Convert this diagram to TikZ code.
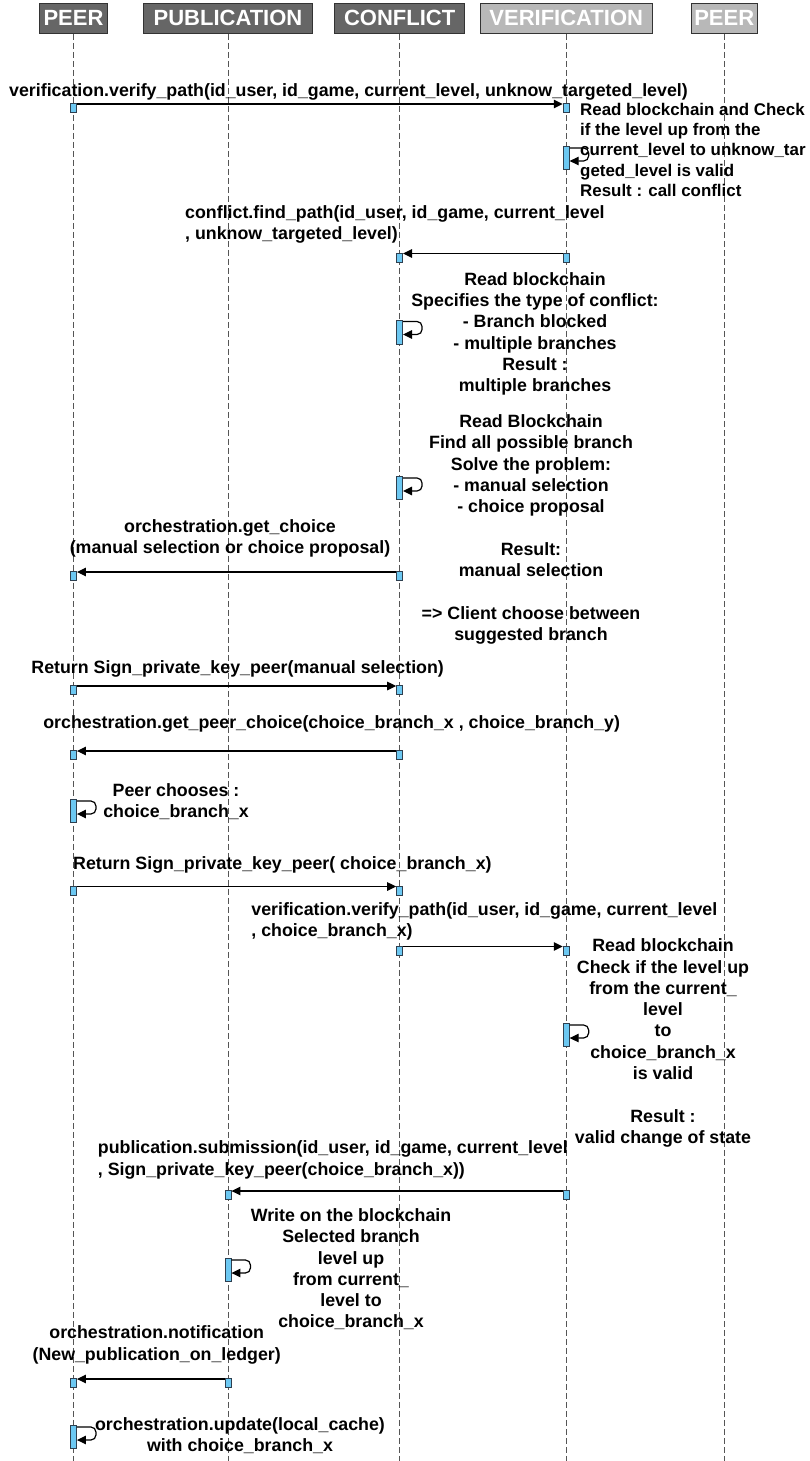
\documentclass[tikz,border=0pt]{standalone}
\usepackage{fontspec}
\setmainfont{Liberation Sans}
\usetikzlibrary{arrows.meta}

\definecolor{hdrdark}{HTML}{666666}
\definecolor{hdrlight}{HTML}{B8B8B8}
\definecolor{hdredge}{HTML}{333333}
\definecolor{actfill}{HTML}{6CC8F2}
\definecolor{actedge}{HTML}{2E3F4F}
\definecolor{lifegray}{HTML}{555555}

\tikzset{
  hdr/.style={draw=hdredge, line width=1pt, minimum height=30pt, inner sep=0pt,
    text=white, font=\fontsize{22}{26}\selectfont\bfseries},
  hdrdk/.style={hdr, fill=hdrdark},
  hdrlt/.style={hdr, fill=hdrlight},
  life/.style={draw=lifegray, line width=0.9pt, dash pattern=on 6pt off 3pt},
  act/.style={draw=actedge, fill=actfill, line width=0.9pt, minimum width=6pt,
    inner sep=0pt, anchor=north},
  actmsg/.style={act, minimum height=9pt},
  actself/.style={act, minimum height=23pt},
  msg/.style={draw=black, line width=1.2pt, -{Triangle[length=9pt,width=8.5pt]}},
  selfmsg/.style={msg, rounded corners=5pt},
  lbl/.style={inner sep=0pt, font=\fontsize{17.8}{21.3}\selectfont\bfseries,
    execute at begin node=\strut, yshift=14.91pt},
  lblc/.style={lbl, align=center, anchor=north},
  lbll/.style={lbl, align=left, anchor=north west},
  lblsmall/.style={inner sep=0pt, font=\fontsize{16.9}{20.3}\selectfont\bfseries,
    execute at begin node=\strut, yshift=14.21pt, align=left, anchor=north west},
}

\begin{document}
\begin{tikzpicture}[x=1pt, y=-1pt]
\path[use as bounding box, fill=white] (0,0) rectangle (809,1461);

\def\xPeer{73.5}
\def\xPub{228}
\def\xConf{399.6}
\def\xVer{566.2}
\def\xPeerB{724.2}

% participants
\node[hdrdk, minimum width=68.4pt]  (hpeer)  at (\xPeer,18.3)  {PEER};
\node[hdrdk, minimum width=169.4pt] (hpub)   at (\xPub,18.3)   {PUBLICATION};
\node[hdrdk, minimum width=130.7pt] (hconf)  at (\xConf,18.3)  {CONFLICT};
\node[hdrlt, minimum width=172.3pt] (hver)   at (\xVer,18.3)   {VERIFICATION};
\node[hdrlt, minimum width=66.3pt]  (hpeerb) at (\xPeerB,18.3) {PEER};

% lifelines
\coordinate (epeer)  at (\xPeer,1461);
\coordinate (epub)   at (\xPub,1461);
\coordinate (econf)  at (\xConf,1461);
\coordinate (ever)   at (\xVer,1461);
\coordinate (epeerb) at (\xPeerB,1461);
\draw[life] (hpeer.south)  -- (epeer);
\draw[life] (hpub.south)   -- (epub);
\draw[life] (hconf.south)  -- (econf);
\draw[life] (hver.south)   -- (ever);
\draw[life] (hpeerb.south) -- (epeerb);

% 1: peer -> verification
\node[actmsg] (m1s) at (\xPeer,103) {};
\node[actmsg] (m1t) at (\xVer,103) {};
\draw[msg] ([yshift=-1pt]m1s.north east) -- ([yshift=-1pt]m1t.north west);
\node[lbll] (t1) at (9,96.2)
  {verification.verify\_path(id\_user, id\_game, current\_level, unknow\_targeted\_level)};

\node[actself] (s1) at (\xVer,146) {};
\draw[selfmsg] ([yshift=-2pt]s1.north east) -- ++(19,0) -- ++(0,13) -- ([yshift=-15pt]s1.north east);
\node[lblsmall] (t2) at (580,116.9)
  {Read blockchain and Check\\if the level up from the\\current\_level to unknow\_tar\\geted\_level is valid\\Result : call conflict};

% 2: verification -> conflict
\node[actmsg] (m2s) at (\xVer,252.5) {};
\node[actmsg] (m2t) at (\xConf,252.5) {};
\draw[msg] ([yshift=-1pt]m2s.north west) -- ([yshift=-1pt]m2t.north east);
\node[lbll] (t3) at (185,220.5)
  {conflict.find\_path(id\_user, id\_game, current\_level\\, unknow\_targeted\_level)};

\node[actself, minimum height=24pt] (s2) at (\xConf,319.5) {};
\draw[selfmsg] ([yshift=-2pt]s2.north east) -- ++(19,0) -- ++(0,13) -- ([yshift=-15pt]s2.north east);
\node[lblc] (t4) at (535,287.2)
  {Read blockchain\\Specifies the type of conflict:\\- Branch blocked\\- multiple branches\\Result :\\multiple branches};

\node[actself] (s3) at (\xConf,476) {};
\draw[selfmsg] ([yshift=-2pt]s3.north east) -- ++(19,0) -- ++(0,13) -- ([yshift=-15pt]s3.north east);
\node[lblc] (t5) at (531,429.5)
  {Read Blockchain\\Find all possible branch\\Solve the problem:\\- manual selection\\- choice proposal\\\mbox{}\\Result:\\manual selection\\\mbox{}\\=> Client choose between\\suggested branch};

% 3: conflict -> peer
\node[actmsg] (m3s) at (\xConf,571) {};
\node[actmsg] (m3t) at (\xPeer,571) {};
\draw[msg] ([yshift=-1pt]m3s.north west) -- ([yshift=-1pt]m3t.north east);
\node[lblc] (t6) at (230,534.5)
  {orchestration.get\_choice\\(manual selection or choice proposal)};

% 4: peer -> conflict
\node[actmsg] (m4s) at (\xPeer,685) {};
\node[actmsg] (m4t) at (\xConf,685) {};
\draw[msg] ([yshift=-1pt]m4s.north east) -- ([yshift=-1pt]m4t.north west);
\node[lblc] (t8) at (237.7,673.5)
  {Return Sign\_private\_key\_peer(manual selection)};

% 5: conflict -> peer
\node[actmsg] (m5s) at (\xConf,750) {};
\node[actmsg] (m5t) at (\xPeer,750) {};
\draw[msg] ([yshift=-1pt]m5s.north west) -- ([yshift=-1pt]m5t.north east);
\node[lblc] (t9) at (331.7,728.5)
  {orchestration.get\_peer\_choice(choice\_branch\_x , choice\_branch\_y)};

\node[actself] (s4) at (\xPeer,799) {};
\draw[selfmsg] ([yshift=-2pt]s4.north east) -- ++(19,0) -- ++(0,13) -- ([yshift=-15pt]s4.north east);
\node[lblc] (t10) at (176,798.5) {Peer chooses :\\choice\_branch\_x};

% 6: peer -> conflict
\node[actmsg] (m6s) at (\xPeer,885.5) {};
\node[actmsg] (m6t) at (\xConf,885.5) {};
\draw[msg] ([yshift=-1pt]m6s.north east) -- ([yshift=-1pt]m6t.north west);
\node[lblc] (t11) at (282.4,869.5)
  {Return Sign\_private\_key\_peer( choice\_branch\_x)};

% 7: conflict -> verification
\node[actmsg] (m7s) at (\xConf,945.5) {};
\node[actmsg] (m7t) at (\xVer,945.5) {};
\draw[msg] ([yshift=-1pt]m7s.north east) -- ([yshift=-1pt]m7t.north west);
\node[lbll] (t12) at (251.2,917.2)
  {verification.verify\_path(id\_user, id\_game, current\_level\\, choice\_branch\_x)};

\node[actself] (s5) at (\xVer,1023) {};
\draw[selfmsg] ([yshift=-2pt]s5.north east) -- ++(19,0) -- ++(0,13) -- ([yshift=-15pt]s5.north east);
\node[lblc] (t13) at (663,953.5)
  {Read blockchain\\Check if the level up\\from the current\_\\level\\to\\choice\_branch\_x\\is valid\\\mbox{}\\Result :\\valid change of state};

% 8: verification -> publication
\node[actmsg] (m8s) at (\xVer,1190) {};
\node[actmsg] (m8t) at (\xPub,1190) {};
\draw[msg] ([yshift=-1pt]m8s.north west) -- ([yshift=-1pt]m8t.north east);
\node[lbll] (t14) at (97.7,1155.5)
  {publication.submission(id\_user, id\_game, current\_level\\, Sign\_private\_key\_peer(choice\_branch\_x))};

\node[actself] (s6) at (\xPub,1258) {};
\draw[selfmsg] ([yshift=-2pt]s6.north east) -- ++(19,0) -- ++(0,13) -- ([yshift=-15pt]s6.north east);
\node[lblc] (t15) at (351,1223.2)
  {Write on the blockchain\\Selected branch\\level up\\from current\_\\level to\\choice\_branch\_x};

% 9: publication -> peer
\node[actmsg] (m9s) at (\xPub,1378) {};
\node[actmsg] (m9t) at (\xPeer,1378) {};
\draw[msg] ([yshift=-1pt]m9s.north west) -- ([yshift=-1pt]m9t.north east);
\node[lblc] (t16) at (156.7,1340.5)
  {orchestration.notification\\(New\_publication\_on\_ledger)};

\node[actself] (s7) at (\xPeer,1425) {};
\draw[selfmsg] ([yshift=-2pt]s7.north east) -- ++(19,0) -- ++(0,13) -- ([yshift=-15pt]s7.north east);
\node[lblc] (t17) at (240,1432.2)
  {orchestration.update(local\_cache)\\with choice\_branch\_x};
\end{tikzpicture}
\end{document}
